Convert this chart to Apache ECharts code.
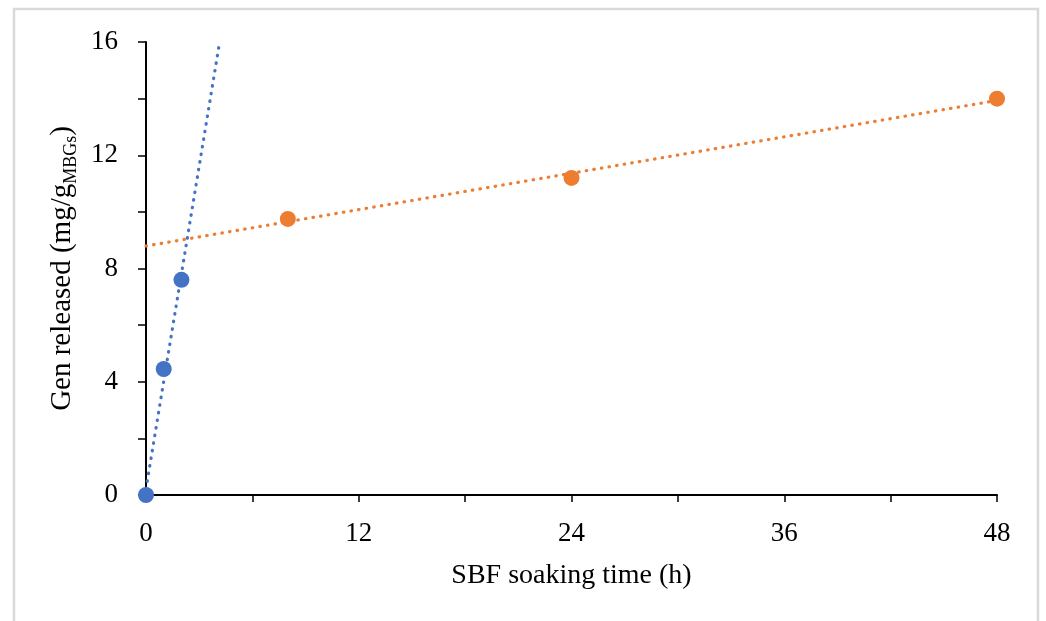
<!DOCTYPE html>
<html>
<head>
<meta charset="utf-8">
<script src="https://cdn.jsdelivr.net/npm/echarts@6/dist/echarts.min.js"></script>
<style>
  html, body { margin: 0; padding: 0; background: #fff; }
  #main { width: 1046px; height: 621px; }
</style>
</head>
<body>
<div id="main"></div>
<script>
// 数据
var blueTime = [0, 1, 2]
var blueGen = [0, 4.45, 7.6]
var orangeTime = [8, 24, 48]
var orangeGen = [9.75, 11.2, 14.0]
var xTicks = [0, 12, 24, 36, 48]
var yTicks = [0, 4, 8, 12, 16]

var blue = '#4472C4'
var orange = '#ED7D31'
var font = '"Liberation Serif", "DejaVu Serif", serif'

// least squares line, like Excel's linear trendline
function fit(xs, ys) {
  var n = xs.length, mx = 0, my = 0
  for (var i = 0; i < n; i++) { mx += xs[i] / n; my += ys[i] / n }
  var sxx = 0, sxy = 0
  for (var j = 0; j < n; j++) {
    sxx += (xs[j] - mx) * (xs[j] - mx)
    sxy += (xs[j] - mx) * (ys[j] - my)
  }
  var k = sxy / sxx
  return { k: k, b: my - k * mx }
}

function pairs(xs, ys) {
  return xs.map(function (x, i) { return [x, ys[i]] })
}

var xMax = xTicks[xTicks.length - 1]
var yMax = yTicks[yTicks.length - 1]

var fb = fit(blueTime, blueGen)
var fo = fit(orangeTime, orangeGen)
// blue trend stops where it leaves the plot at the top
var blueEnd = (yMax - fb.b) / fb.k
var blueTrend = [[0, fb.b], [blueEnd, yMax]]
var orangeTrend = [[0, fo.b], [xMax, fo.b + fo.k * xMax]]

var dotted = { width: 3.2, type: [0.5, 7.2], cap: 'round' }

var option = {
  backgroundColor: '#fff',
  animation: false,
  textStyle: { fontFamily: font, color: '#000' },
  graphic: [{
    type: 'rect',
    shape: { x: 14, y: 9, width: 1024, height: 700 },
    style: { fill: null, stroke: '#d9d9d9', lineWidth: 2.5 },
    silent: true
  }],
  grid: { left: 146, right: 49, top: 42, bottom: 126 },
  xAxis: {
    type: 'value',
    min: 0,
    max: xMax,
    interval: 12,
    splitLine: { show: false },
    axisLine: { lineStyle: { color: '#000', width: 2 } },
    axisTick: { show: true, length: 7, lineStyle: { color: '#000', width: 1.5 } },
    minorTick: { show: true, splitNumber: 2, length: 7, lineStyle: { color: '#000', width: 1.5 } },
    axisLabel: { fontFamily: font, fontSize: 27, color: '#000', margin: 25 },
    name: 'SBF soaking time (h)',
    nameLocation: 'middle',
    nameGap: 67,
    nameTextStyle: { fontFamily: font, fontSize: 28, color: '#000' }
  },
  yAxis: {
    type: 'value',
    min: 0,
    max: yMax,
    interval: 4,
    splitLine: { show: false },
    axisLine: { show: true, lineStyle: { color: '#000', width: 2 } },
    axisTick: { show: true, length: 8, lineStyle: { color: '#000', width: 1.5 } },
    minorTick: { show: true, splitNumber: 2, length: 8, lineStyle: { color: '#000', width: 1.5 } },
    axisLabel: { fontFamily: font, fontSize: 27, color: '#000', margin: 28 },
    name: '{a|Gen released (mg/g}{s|MBGs}{a|)}',
    nameLocation: 'middle',
    nameGap: 61,
    nameTextStyle: {
      rich: {
        a: { fontFamily: font, fontSize: 29, color: '#000', lineHeight: 36, verticalAlign: 'middle' },
        s: { fontFamily: font, fontSize: 18, color: '#000', lineHeight: 36, verticalAlign: 'bottom' }
      }
    }
  },
  series: [
    {
      // 趋势线
      type: 'line',
      data: blueTrend,
      symbol: 'none',
      clip: true,
      lineStyle: Object.assign({ color: blue }, dotted),
      z: 1
    },
    {
      type: 'line',
      data: orangeTrend,
      symbol: 'none',
      clip: true,
      lineStyle: Object.assign({ color: orange }, dotted),
      z: 1
    },
    {
      type: 'scatter',
      data: pairs(blueTime, blueGen),
      symbolSize: 16,
      itemStyle: { color: blue, opacity: 1 },
      clip: false,
      z: 3
    },
    {
      type: 'scatter',
      data: pairs(orangeTime, orangeGen),
      symbolSize: 16,
      itemStyle: { color: orange, opacity: 1 },
      clip: false,
      z: 3
    }
  ]
}

var chart = echarts.init(document.getElementById('main'), null, { renderer: 'canvas' })
chart.setOption(option)
</script>
</body>
</html>
